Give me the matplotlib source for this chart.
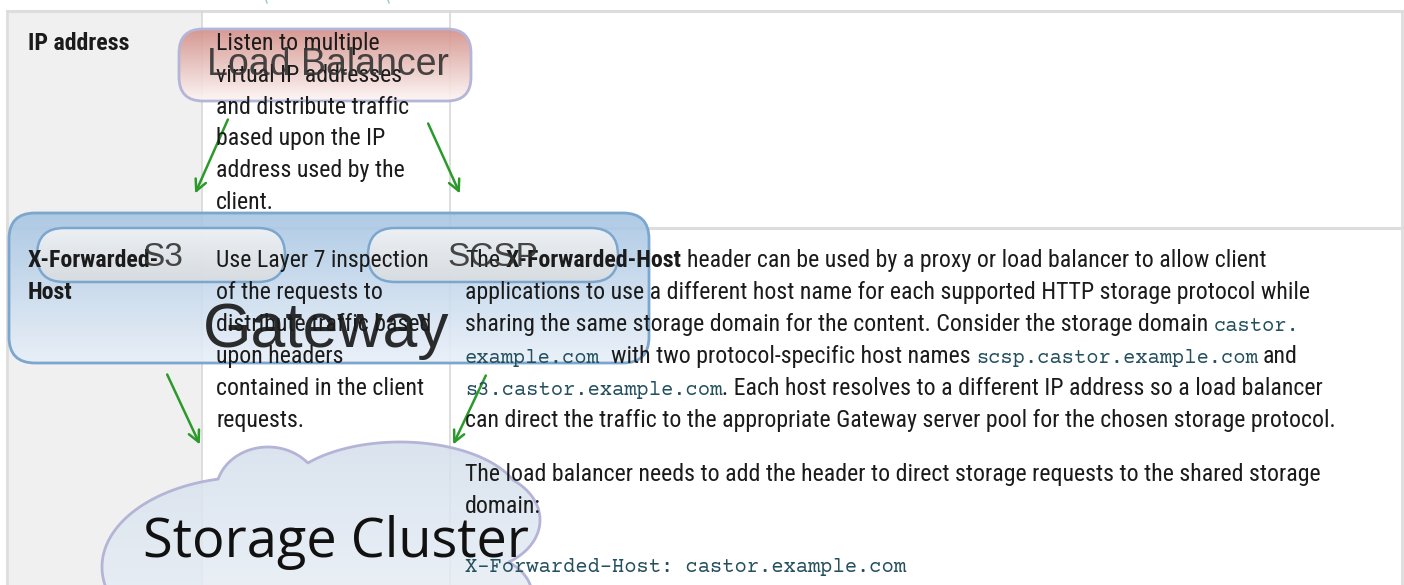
import numpy as np
import matplotlib
matplotlib.use("Agg")
import matplotlib.pyplot as plt
from matplotlib.patches import FancyBboxPatch, Rectangle
from matplotlib.colors import to_rgb

W, H = 1404, 585

# table content
row_heads = [["IP address"], ["X-Forwarded-", "Host"]]
row1_desc = ["Listen to multiple", "virtual IP addresses", "and distribute traffic",
             "based upon the IP", "address used by the", "client."]
row2_desc = ["Use Layer 7 inspection", "of the requests to", "distribute traffic based",
             "upon headers", "contained in the client", "requests."]
# (text, style) with r = regular, b = bold, m = monospace
row2_notes = [
    [("The ", "r"), ("X-Forwarded-Host", "b"), (" header can be used by a proxy or load balancer to allow client", "r")],
    [("applications to use a different host name for each supported HTTP storage protocol while", "r")],
    [("sharing the same storage domain for the content. Consider the storage domain ", "r"), ("castor.", "m")],
    [("example.com", "m"), ("  with two protocol-specific host names ", "r"),
     ("scsp.castor.example.com", "m"), (" and", "r")],
    [("s3.castor.example.com", "m"), (". Each host resolves to a different IP address so a load balancer", "r")],
    [("can direct the traffic to the appropriate Gateway server pool for the chosen storage protocol.", "r")],
]
row2_notes_b = ["The load balancer needs to add the header to direct storage requests to the shared storage",
                "domain:"]
code_line = "X-Forwarded-Host: castor.example.com"

# diagram labels
lb_label = "Load Balancer"
gw_label = "Gateway"
proto_labels = ["S3", "SCSP"]
cluster_label = "Storage Cluster"

body_font = ["Roboto Condensed", "Roboto", "DejaVu Sans"]
mono_font = ["Courier New", "Courier Prime", "Liberation Mono"]
draw_font = ["Liberation Sans", "DejaVu Sans"]
cloud_font = ["Open Sans", "DejaVu Sans"]
body_size = 17.2
mono_size = 14.8
txt_col = "#1b1b1b"
code_col = "#24505e"

fig = plt.figure(figsize=(W / 100, H / 100), dpi=100)
ax = fig.add_axes([0, 0, 1, 1])
ax.set_xlim(0, W)
ax.set_ylim(H, 0)
ax.axis("off")


def gradient(c_top, c_bot, n):
    t = np.linspace(0, 1, n)[:, None]
    a, b = np.array(to_rgb(c_top)), np.array(to_rgb(c_bot))
    return a * (1 - t) + b * t


def grad_fill(patch, c_top, c_bot, y0, y1, alpha, z):
    ax.add_patch(patch)
    rgb = gradient(c_top, c_bot, 200)
    img = np.dstack([rgb[:, 0:1], rgb[:, 1:2], rgb[:, 2:3], np.full((200, 1), alpha)])
    bb = patch.get_path().get_extents(patch.get_patch_transform())
    im = ax.imshow(img, origin="lower", extent=(bb.x0 - 5, bb.x1 + 5, y0, y1),
                   aspect="auto", zorder=z, interpolation="bilinear")
    im.set_clip_path(patch)


# table background and grid
ax.add_patch(Rectangle((8, 11), 194, H, facecolor="#f0f0f0", edgecolor="none", zorder=0))
ax.plot([7, 1402], [11, 11], color="#dddddd", lw=2.2, zorder=1)
ax.plot([7, 7], [11, H], color="#dddddd", lw=2, zorder=1)
ax.plot([1402, 1402], [11, H], color="#dddddd", lw=2, zorder=1)
ax.plot([7, 1402], [228, 228], color="#dddddd", lw=2.2, zorder=1)
for xc in [202, 450]:
    ax.plot([xc, xc], [11, H], color="#d8d8d8", lw=1.2, zorder=1)

# faint arrow tails at the top edge
for xc in [266, 388]:
    ax.plot([xc, xc + 1], [0, 3], color="#9ccfb4", lw=1, zorder=2)

# load balancer box
lb = FancyBboxPatch((179, 29), 292, 72, boxstyle="round,pad=0,rounding_size=24",
                    facecolor="none", edgecolor="#b5b5d8", lw=2, zorder=4)
grad_fill(lb, "#d38e87", "#fdf6f5", 29, 101, 0.9, 3)

# gateway box
gw = FancyBboxPatch((9, 213), 640, 150, boxstyle="round,pad=0,rounding_size=26",
                    facecolor="none", edgecolor="#7ba7cf", lw=2, zorder=4)
grad_fill(gw, "#a5c4e2", "#e8eff8", 213, 363, 0.88, 3)

# protocol pills
for px, pw in [(37, 248), (368, 250)]:
    pill = FancyBboxPatch((px, 228), pw, 54, boxstyle="round,pad=0,rounding_size=27",
                          facecolor="none", edgecolor="#7ba7cf", lw=1.8, zorder=6)
    grad_fill(pill, "#f7f7f7", "#d9dcdf", 228, 282, 0.85, 5)

# storage cluster cloud: union of ellipse lobes
lobes = [(250, 567, 148, 90), (268, 492, 52, 45), (400, 503, 122, 61),
         (472, 520, 68, 50), (470, 595, 62, 42), (420, 590, 110, 45),
         (320, 640, 220, 80)]
gx = np.arange(80, 620, 1.0)
gy = np.arange(420, 720, 1.0)
GX, GY = np.meshgrid(gx, gy)
F = np.min([np.hypot((GX - cx) / a, (GY - cy) / b) for cx, cy, a, b in lobes], axis=0) - 1
rgb = gradient("#d2deeb", "#f5f8fc", len(gy))
cloud_img = np.zeros((len(gy), len(gx), 4))
cloud_img[..., :3] = rgb[:, None, :]
cloud_img[..., 3] = np.where(F < 0, 0.85, 0.0)
ax.imshow(cloud_img, origin="lower", extent=(gx[0], gx[-1], gy[0], gy[-1]),
          aspect="auto", zorder=3, interpolation="bilinear")
ax.contour(GX, GY, F, levels=[0], colors="#b4b4d6", linewidths=2, zorder=4)

# green arrows
arrows = [((229, 117), (194, 196)), ((427, 121), (461, 196)),
          ((166, 372), (201, 447)), ((487, 373), (452, 447))]
for (x0, y0), (x1, y1) in arrows:
    ax.annotate("", xy=(x1, y1), xytext=(x0, y0),
                arrowprops=dict(arrowstyle="->,head_length=0.8,head_width=0.4",
                                color="#2b9a2b", lw=1.8), zorder=7)

# table text
fig.canvas.draw()
rend = fig.canvas.get_renderer()


def seg_width(s, **kw):
    t = ax.text(0, 0, s.strip() or "x", **kw)
    bb = t.get_window_extent(rend)
    t.remove()
    return bb.width


styles = {
    "r": dict(family=body_font, size=body_size, color=txt_col),
    "b": dict(family=body_font, size=body_size, color=txt_col, weight="bold"),
    "m": dict(family=mono_font, size=mono_size, color=code_col),
}
space_w = {k: seg_width("a a", **v) - seg_width("aa", **v) for k, v in styles.items()}


def draw_line(x, y, segs, z=8):
    for s, st in segs:
        lead = len(s) - len(s.lstrip(" "))
        trail = len(s) - len(s.rstrip(" "))
        x += lead * space_w[st]
        core = s.strip(" ")
        if core:
            ax.text(x, y, core, va="baseline", ha="left", zorder=z, **styles[st])
            x += seg_width(core, **styles[st])
        x += trail * space_w[st]


row1_base = [50 + 31.8 * i for i in range(6)]
row2_base = [267 + 32 * i for i in range(6)]

draw_line(28, row1_base[0], [(row_heads[0][0], "b")])
for i, s in enumerate(row_heads[1]):
    draw_line(28, row2_base[i], [(s, "b")])
for i, s in enumerate(row1_desc):
    draw_line(216, row1_base[i], [(s, "r")])
for i, s in enumerate(row2_desc):
    draw_line(216, row2_base[i], [(s, "r")])
for i, segs in enumerate(row2_notes):
    draw_line(465, row2_base[i], segs)
for i, s in enumerate(row2_notes_b):
    draw_line(465, 481 + 32 * i, [(s, "r")])
draw_line(465, 572, [(code_line, "m")])

# diagram labels on top
ax.text(328, 75, lb_label, family=draw_font, size=27, color="#333333", alpha=0.9,
        ha="center", va="baseline", zorder=9)
ax.text(326, 347, gw_label, family=draw_font, size=45, color="#1a1a1a", alpha=0.92,
        ha="center", va="baseline", zorder=9)
for xc, lab in zip([163, 493], proto_labels):
    ax.text(xc, 266, lab, family=draw_font, size=24, color="#333333", alpha=0.9,
            ha="center", va="baseline", zorder=9)
ax.text(336, 557, cluster_label, family=cloud_font, size=39, color="#111111",
        ha="center", va="baseline", zorder=9)

ax.set_xlim(0, W)
ax.set_ylim(H, 0)
fig.savefig("out.png", dpi=100)
